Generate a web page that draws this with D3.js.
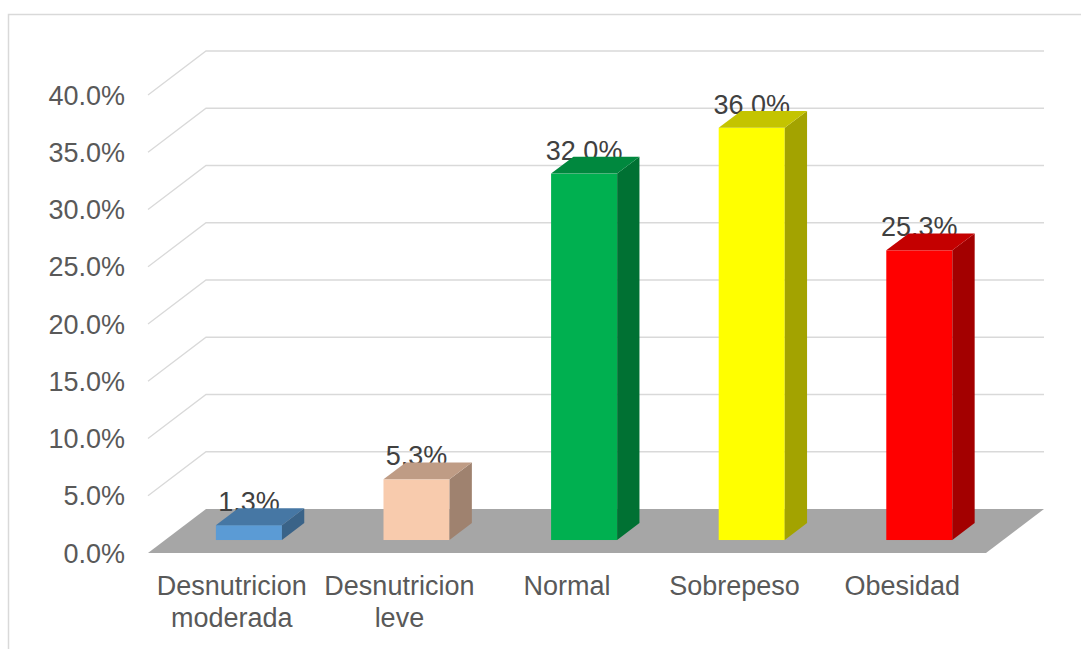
<!DOCTYPE html>
<html>
<head>
<meta charset="utf-8">
<script src="https://cdn.jsdelivr.net/npm/d3@7"></script>
<style>
    body { margin: 0; background: #fff; }
    svg { display: block; font-family: "Liberation Sans", Arial, sans-serif; }
</style>
</head>
<body>
<div class="chart"></div>
<script>
const categories = ["Desnutricion moderada", "Desnutricion leve", "Normal", "Sobrepeso", "Obesidad"];
const values = [0.013, 0.053, 0.32, 0.36, 0.253];
const valueLabels = ["1.3%", "5.3%", "32.0%", "36.0%", "25.3%"];
const barColors = ["#5b9bd5", "#f8cbad", "#00b050", "#ffff00", "#ff0000"];
const ticks = [0, 0.05, 0.10, 0.15, 0.20, 0.25, 0.30, 0.35, 0.40];

const svgW = 1081, svgH = 649;
const front = {x0: 148, x1: 986, y0: 553};
const depth = {dx: 58, dy: 44};
const barFront = 0.295, barBack = 0.68;   // bar position inside the floor depth

const svg = d3.select("div.chart")
    .append("svg")
    .attr("width", svgW)
    .attr("height", svgH);

// outer frame
svg.append("rect")
    .attr("x", 8.5).attr("y", 14.5)
    .attr("width", 1100).attr("height", 700)
    .attr("fill", "none")
    .attr("stroke", "#d9d9d9")
    .attr("stroke-width", 1.5);

const y = d3.scaleLinear()
    .domain([0, 0.40])
    .range([front.y0, 95]);

const x = d3.scaleBand()
    .domain(categories)
    .range([front.x0, front.x1]);

const grid = svg.append("g")
    .attr("stroke", "#d9d9d9")
    .attr("stroke-width", 1.3)
    .attr("fill", "none");

// back wall lines + left wall diagonals
grid.selectAll("polyline")
    .data(ticks.slice(1))
    .join("polyline")
    .attr("points", d => [
        [front.x0, y(d)],
        [front.x0 + depth.dx, y(d) - depth.dy],
        [front.x1 + depth.dx, y(d) - depth.dy]
    ].map(p => p.join(",")).join(" "));

// floor
svg.append("polygon")
    .attr("points", [
        [front.x0, y(0)],
        [front.x1, y(0)],
        [front.x1 + depth.dx, y(0) - depth.dy],
        [front.x0 + depth.dx, y(0) - depth.dy]
    ].map(p => p.join(",")).join(" "))
    .attr("fill", "#a6a6a6");

// y tick labels
svg.append("g")
    .selectAll("text")
    .data(ticks)
    .join("text")
    .attr("x", 125)
    .attr("y", d => y(d))
    .attr("dy", "0.36em")
    .attr("text-anchor", "end")
    .attr("font-size", 27)
    .attr("fill", "#595959")
    .text(d => d3.format(".1%")(d));

// category labels
const catG = svg.append("g");
categories.forEach(c => {
    let words = c.split(" ");
    let t = catG.append("text")
        .attr("x", x(c) + x.bandwidth() / 2)
        .attr("y", 595)
        .attr("text-anchor", "middle")
        .attr("font-size", 27)
        .attr("fill", "#595959");
    words.forEach((w, i) => {
        t.append("tspan")
            .attr("x", x(c) + x.bandwidth() / 2)
            .attr("dy", i === 0 ? 0 : 32)
            .text(w);
    });
});

function shade(col, k) {
    let c = d3.rgb(col);
    return d3.rgb(c.r * k, c.g * k, c.b * k).formatHex();
}

const barW = x.bandwidth() * 0.394;
const fdx = barFront * depth.dx, fdy = barFront * depth.dy;
const bdx = (barBack - barFront) * depth.dx, bdy = (barBack - barFront) * depth.dy;

const bars = categories.map((c, i) => {
    let cx = x(c) + x.bandwidth() / 2 + fdx;
    let left = cx - barW / 2, right = cx + barW / 2;
    let bottom = y(0) - fdy;
    let top = y(values[i]) - fdy;
    return {c, i, cx, left, right, bottom, top};
});

// value labels (drawn under the bars, as in the original)
svg.append("g")
    .selectAll("text")
    .data(bars)
    .join("text")
    .attr("x", d => d.cx)
    .attr("y", d => d.top - bdy + 3)
    .attr("text-anchor", "middle")
    .attr("font-size", 27)
    .attr("fill", "#404040")
    .text(d => valueLabels[d.i]);

const barG = svg.append("g")
    .selectAll("g")
    .data(bars)
    .join("g");

barG.append("rect")
    .attr("x", d => d.left)
    .attr("y", d => d.top)
    .attr("width", barW)
    .attr("height", d => d.bottom - d.top)
    .attr("fill", d => barColors[d.i]);

barG.append("polygon")
    .attr("points", d => [
        [d.right, d.top], [d.right + bdx, d.top - bdy],
        [d.right + bdx, d.bottom - bdy], [d.right, d.bottom]
    ].map(p => p.join(",")).join(" "))
    .attr("fill", d => shade(barColors[d.i], 0.64));

barG.append("polygon")
    .attr("points", d => [
        [d.left, d.top], [d.left + bdx, d.top - bdy],
        [d.right + bdx, d.top - bdy], [d.right, d.top]
    ].map(p => p.join(",")).join(" "))
    .attr("fill", d => shade(barColors[d.i], 0.77));
</script>
</body>
</html>
